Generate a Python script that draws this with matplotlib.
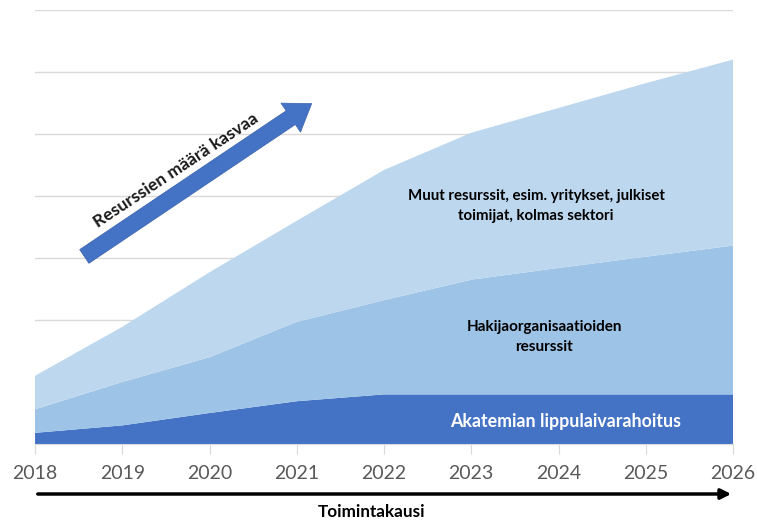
import matplotlib
matplotlib.use("Agg")
import matplotlib.pyplot as plt

plt.rcParams['font.family'] = ['Lato', 'DejaVu Sans']

years = [2018, 2019, 2020, 2021, 2022, 2023, 2024, 2025, 2026]
akatemia = [0.18, 0.30, 0.50, 0.69, 0.80, 0.80, 0.80, 0.80, 0.80]
hakija = [0.38, 0.70, 0.90, 1.28, 1.52, 1.85, 2.04, 2.22, 2.40]
muut = [0.54, 0.89, 1.37, 1.63, 2.10, 2.37, 2.58, 2.80, 3.00]
colors = ['#4472C4', '#9DC3E6', '#BDD7EE']

fig = plt.figure(figsize=(7.57, 5.22), dpi=100)
W, H = 757, 522
ax = fig.add_axes([35 / W, (H - 444) / H, (733 - 35) / W, (444 - 10) / H])

ax.stackplot(years, akatemia, hakija, muut, colors=colors, linewidth=0, zorder=2)
ax.set_xlim(2018, 2026)
ax.set_ylim(0, 7)
ax.set_yticks(range(1, 8))
ax.set_yticklabels([])
ax.tick_params(axis='y', length=0)
ax.grid(axis='y', color='#d9d9d9', linewidth=1, zorder=0)
ax.set_axisbelow(True)
for s in ['top', 'right', 'left']:
    ax.spines[s].set_visible(False)
ax.spines['bottom'].set_color('#d9d9d9')
ax.set_xticks(years)
ax.set_xticklabels([str(y) for y in years], fontsize=14, color='#595959')
ax.tick_params(axis='x', length=7, color='#d9d9d9', pad=8)

# labels inside the areas
ax.text(566 / W, (H - 421) / H, 'Akatemian lippulaivarahoitus', transform=fig.transFigure,
        ha='center', va='center', fontsize=12.8, fontweight='bold', color='white')
ax.text(544 / W, (H - 337) / H, 'Hakijaorganisaatioiden\nresurssit', transform=fig.transFigure,
        ha='center', va='center', fontsize=11, fontweight='bold', color='black', linespacing=1.6)
ax.text(536 / W, (H - 206) / H, 'Muut resurssit, esim. yritykset, julkiset\ntoimijat, kolmas sektori',
        transform=fig.transFigure, ha='center', va='center', fontsize=10.8, fontweight='bold',
        color='black', linespacing=1.6)

# big blue arrow
ax.annotate('', xy=(314, H - 102), xytext=(82, H - 258), xycoords='figure pixels',
            textcoords='figure pixels',
            arrowprops=dict(arrowstyle='simple,head_width=1.8,head_length=1.3,tail_width=0.85',
                            mutation_scale=14, facecolor='#4472C4', edgecolor='#3a62aa', linewidth=0.5))
fig.text(176 / W, (H - 170) / H, 'Resurssien määrä kasvaa', rotation=33.5, rotation_mode='anchor',
         ha='center', va='center', fontsize=12.6, fontweight='bold', color='#1a1a1a')

# time axis arrow
ax.annotate('', xy=(734, H - 494), xytext=(35, H - 494), xycoords='figure pixels',
            textcoords='figure pixels',
            arrowprops=dict(arrowstyle='-|>,head_width=0.3,head_length=0.6', color='black', linewidth=2.5))
fig.text(372 / W, (H - 512) / H, 'Toimintakausi', ha='center', va='center', fontsize=12.3,
         fontweight='bold', color='black')

fig.savefig('out.png', dpi=100)
